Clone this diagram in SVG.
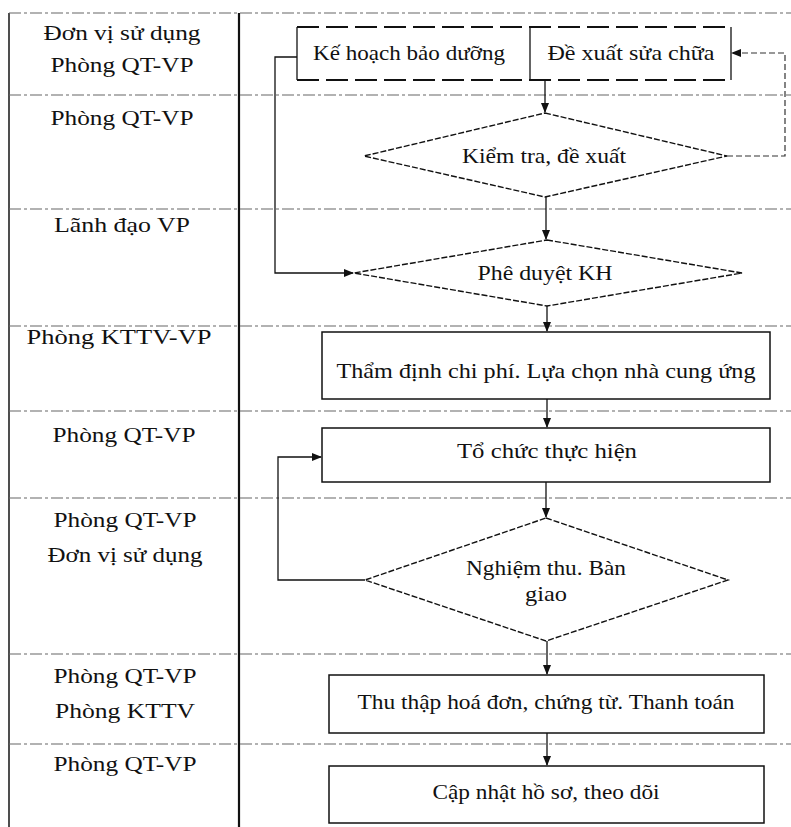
<svg xmlns="http://www.w3.org/2000/svg" width="791" height="827" viewBox="0 0 791 827">
<defs>
<marker id="arr" markerWidth="10" markerHeight="10" refX="9" refY="5" orient="auto" markerUnits="userSpaceOnUse">
<path d="M0,1 L10,5 L0,9 Z" fill="#111"/>
</marker>
</defs>
<style>
.bg{fill:#fff}
.frame{stroke:#222;stroke-width:1.6;fill:none}
.div{stroke:#111;stroke-width:2.2;fill:none}
.row{stroke:#666;stroke-width:1.1;stroke-dasharray:12 3 3 3;fill:none}
.box{fill:#fff;stroke:#111;stroke-width:1.5}
.boxd{fill:none;stroke:#111;stroke-width:1.8;stroke-dasharray:22 7}
.dia{fill:#fff;stroke:#111;stroke-width:1.4;stroke-dasharray:6 2}
.con{stroke:#111;stroke-width:1.3;fill:none}
.cond{stroke:#333;stroke-width:1.2;fill:none;stroke-dasharray:6 3}
text{font-family:"Liberation Serif","Times New Roman",serif;font-size:22px;fill:#111;text-anchor:middle}
</style>
<rect class="bg" x="0" y="0" width="791" height="827"/>

<g id="lanes">
<line class="frame" x1="9" y1="13" x2="9" y2="827"/>
<line class="div" x1="239" y1="13" x2="239" y2="827"/>
<line class="row" x1="9" y1="13" x2="791" y2="13"/>
<line class="row" x1="9" y1="95" x2="791" y2="95"/>
<line class="row" x1="9" y1="209" x2="791" y2="209"/>
<line class="row" x1="9" y1="326" x2="791" y2="326"/>
<line class="row" x1="9" y1="411" x2="791" y2="411"/>
<line class="row" x1="9" y1="498" x2="791" y2="498"/>
<line class="row" x1="9" y1="654" x2="791" y2="654"/>
<line class="row" x1="9" y1="744" x2="791" y2="744"/>
</g>

<g id="lane-labels">
<text x="122" y="40" textLength="157" lengthAdjust="spacingAndGlyphs">Đơn vị sử dụng</text>
<text x="122" y="72" textLength="143" lengthAdjust="spacingAndGlyphs">Phòng QT-VP</text>
<text x="122" y="125" textLength="143" lengthAdjust="spacingAndGlyphs">Phòng QT-VP</text>
<text x="122" y="232" textLength="136" lengthAdjust="spacingAndGlyphs">Lãnh đạo VP</text>
<text x="119" y="344" textLength="185" lengthAdjust="spacingAndGlyphs">Phòng KTTV-VP</text>
<text x="124" y="442" textLength="143" lengthAdjust="spacingAndGlyphs">Phòng QT-VP</text>
<text x="125" y="527" textLength="143" lengthAdjust="spacingAndGlyphs">Phòng QT-VP</text>
<text x="125" y="562" textLength="155" lengthAdjust="spacingAndGlyphs">Đơn vị sử dụng</text>
<text x="125" y="683" textLength="143" lengthAdjust="spacingAndGlyphs">Phòng QT-VP</text>
<text x="125" y="718" textLength="140" lengthAdjust="spacingAndGlyphs">Phòng KTTV</text>
<text x="125" y="771" textLength="143" lengthAdjust="spacingAndGlyphs">Phòng QT-VP</text>
</g>

<g id="connectors">
<line class="con" x1="545" y1="80" x2="545" y2="112" marker-end="url(#arr)"/>
<line class="con" x1="546" y1="197" x2="546" y2="239" marker-end="url(#arr)"/>
<line class="con" x1="547" y1="306" x2="547" y2="331" marker-end="url(#arr)"/>
<line class="con" x1="547" y1="399" x2="547" y2="427" marker-end="url(#arr)"/>
<line class="con" x1="546" y1="482" x2="546" y2="517" marker-end="url(#arr)"/>
<line class="con" x1="547" y1="641" x2="547" y2="674" marker-end="url(#arr)"/>
<line class="con" x1="547" y1="733" x2="547" y2="765" marker-end="url(#arr)"/>
<polyline class="con" points="297,57 275,57 275,273 353,273" marker-end="url(#arr)"/>
<polyline class="cond" points="727,156 785,156 785,53 732,53" marker-end="url(#arr)"/>
<polyline class="con" points="365,580 278,580 278,457 321,457" marker-end="url(#arr)"/>
</g>

<g id="n-kehoach-dexuat">
<rect x="297" y="27" width="434" height="53" fill="#fff"/>
<line class="boxd" x1="297" y1="27" x2="731" y2="27"/>
<line class="boxd" x1="297" y1="80" x2="731" y2="80"/>
<line class="con" x1="297" y1="27" x2="297" y2="80"/>
<line class="con" x1="731" y1="27" x2="731" y2="80"/>
<line class="con" x1="530" y1="27" x2="530" y2="80"/>
<text x="409" y="60" textLength="192" lengthAdjust="spacingAndGlyphs">Kế hoạch bảo dưỡng</text>
<text x="631" y="60" textLength="167" lengthAdjust="spacingAndGlyphs">Đề xuất sửa chữa</text>
</g>

<g id="n-kiemtra">
<polygon class="dia" points="545,113 727,156 545,197 364,156"/>
<text x="544" y="163" textLength="164" lengthAdjust="spacingAndGlyphs">Kiểm tra, đề xuất</text>
</g>

<g id="n-pheduyet">
<polygon class="dia" points="547,240 742,273 547,306 354,273"/>
<text x="545" y="280" textLength="135" lengthAdjust="spacingAndGlyphs">Phê duyệt KH</text>
</g>

<g id="n-thamdinh">
<rect class="box" x="322" y="332" width="448" height="67"/>
<text x="546" y="378" textLength="419" lengthAdjust="spacingAndGlyphs">Thẩm định chi phí. Lựa chọn nhà cung ứng</text>
</g>

<g id="n-tochuc">
<rect class="box" x="322" y="428" width="448" height="54"/>
<text x="547" y="458" textLength="180" lengthAdjust="spacingAndGlyphs">Tổ chức thực hiện</text>
</g>

<g id="n-nghiemthu">
<polygon class="dia" points="546,518 728,580 546,641 365,580"/>
<text x="546" y="575" textLength="160" lengthAdjust="spacingAndGlyphs">Nghiệm thu. Bàn</text>
<text x="546" y="601" textLength="42" lengthAdjust="spacingAndGlyphs">giao</text>
</g>

<g id="n-thuthap">
<rect class="box" x="329" y="675" width="435" height="58"/>
<text x="546" y="709" textLength="377" lengthAdjust="spacingAndGlyphs">Thu thập hoá đơn, chứng từ. Thanh toán</text>
</g>

<g id="n-capnhat">
<rect class="box" x="329" y="766" width="435" height="57"/>
<text x="546" y="799" textLength="227" lengthAdjust="spacingAndGlyphs">Cập nhật hồ sơ, theo dõi</text>
</g>
</svg>
